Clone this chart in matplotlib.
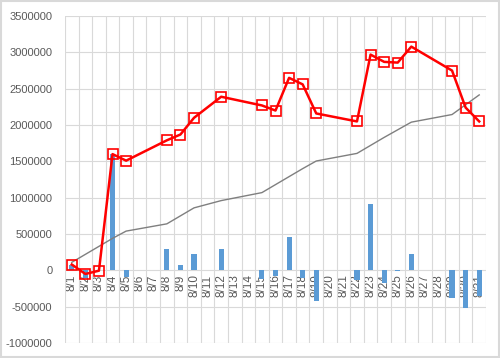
import numpy as np
import matplotlib
matplotlib.use("Agg")
import matplotlib.pyplot as plt
from matplotlib.patches import Rectangle

plt.rcParams["font.family"] = ["Liberation Sans", "DejaVu Sans"]

days = ["8/%d" % d for d in range(1, 32)]

# daily change (bars)
bars = [80000, -100000, 0, 1600000, -90000, 0, 0, 290000, 75000, 220000,
        0, 300000, 0, 0, -120000, -80000, 460000, -100000, -420000, 0,
        0, -140000, 920000, -170000, -10000, 220000, 0, 0, -380000, -520000,
        -350000]

# red line (trading days only, NaN = no data)
nan = np.nan
red = [80000, -50000, -5000, 1600000, 1510000, nan, nan, 1790000, 1870000, 2100000,
       nan, 2390000, nan, nan, 2270000, 2200000, 2650000, 2560000, 2160000, nan,
       nan, 2050000, 2970000, 2870000, 2860000, 3080000, nan, nan, 2750000, 2240000,
       2050000]

# gray trend line
gray = [110000, 220000, 330000, 440000, 540000, nan, nan, 640000, 750000, 860000,
        nan, 960000, nan, nan, 1070000, 1180000, 1290000, 1400000, 1505000, nan,
        nan, 1610000, 1720000, 1830000, 1935000, 2040000, nan, nan, 2145000, 2280000,
        2415000]

x = np.arange(len(days))
red = np.array(red, dtype=float)
gray = np.array(gray, dtype=float)

fig = plt.figure(figsize=(5, 3.58), dpi=100)
ax = fig.add_axes([0.13, 0.042, 0.842, 0.913])

# x axis crosses at zero (set before tick styling, it resets ticks)
ax.spines["bottom"].set_position(("data", 0))
for s in ["top", "right", "left", "bottom"]:
    ax.spines[s].set_visible(False)

ax.bar(x, bars, width=0.38, color="#5b9bd5", zorder=1)
m = ~np.isnan(gray)
ax.plot(x[m], gray[m], color="#7f7f7f", lw=1, zorder=3)
m = ~np.isnan(red)
ax.plot(x[m], red[m], color="#ff0000", lw=1.8, marker="s", ms=6.5,
        mfc="none", mec="#ff0000", mew=1.2, zorder=4)

ax.set_xlim(-0.5, len(days) - 0.5)
ax.set_ylim(-1000000, 3500000)
ax.set_yticks(np.arange(-1000000, 3500001, 500000))
ax.set_yticklabels([str(v) for v in range(-1000000, 3500001, 500000)],
                   fontsize=8, color="#595959")

ax.set_xticks(x)
ax.set_xticklabels(days, rotation=90, fontsize=8.5, color="#595959")
ax.set_xticks(np.arange(-0.5, len(days), 1), minor=True)

ax.tick_params(axis="both", which="both", length=0)
ax.tick_params(axis="x", pad=3)
ax.tick_params(axis="y", pad=9)

ax.grid(axis="y", which="major", color="#d9d9d9", lw=0.8)
ax.grid(axis="x", which="minor", color="#d9d9d9", lw=0.8)
ax.set_axisbelow(True)

fig.patches.append(Rectangle((0.002, 0.003), 0.995, 0.994, transform=fig.transFigure,
                             fill=False, ec="#d9d9d9", lw=1.5))

fig.savefig("out.png", dpi=100)
